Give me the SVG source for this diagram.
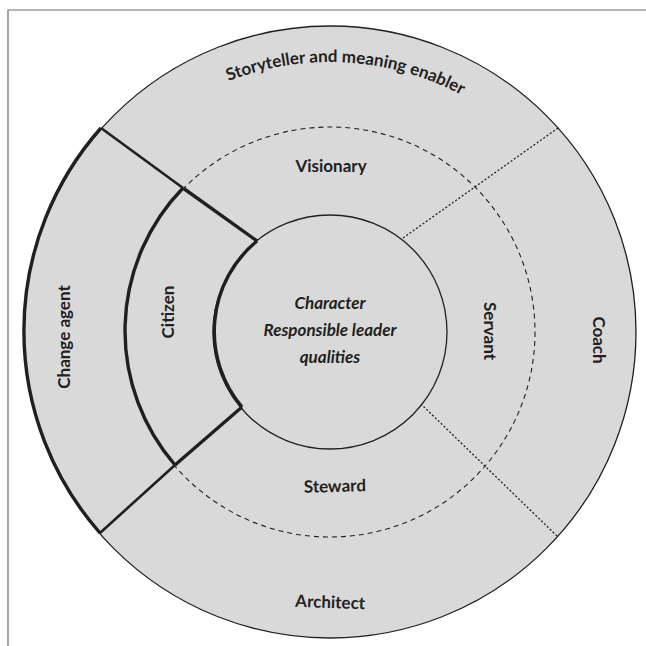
<svg xmlns="http://www.w3.org/2000/svg" width="646" height="646" viewBox="0 0 646 646">
<style>
.lbl{font-family:Lato,"Liberation Sans",sans-serif;font-weight:bold;font-size:17px;fill:#231f20;text-anchor:middle}
.ctr{font-style:italic}
.thin{stroke:#231f20;stroke-width:1.3}
.thick{fill:none;stroke:#231f20;stroke-width:3.4;stroke-linejoin:round}
.mid{fill:none;stroke:#231f20;stroke-width:2.6}
.dash{fill:none;stroke:#231f20;stroke-width:1.1;stroke-dasharray:5 4}
.dot{fill:none;stroke:#231f20;stroke-width:1.3;stroke-dasharray:2 2}
</style>
<defs>
<path id="arcTop" d="M52,340 A278,278 0 0 1 608,340"/>
</defs>
<path d="M8,646 V10 H646" fill="none" stroke="#6d6d6d" stroke-width="1.2"/>
<g id="outer-ring">
<circle class="thin" cx="330" cy="332" r="306" fill="#d9d9d9"/>
</g>
<g id="middle-ring">
<circle class="dash" cx="330" cy="332" r="205"/>
</g>
<g id="center">
<circle class="thin" cx="330" cy="332" r="117" fill="#d9d9d9"/>
<text class="lbl ctr" x="330" y="309">Character</text>
<text class="lbl ctr" x="330" y="336">Responsible leader</text>
<text class="lbl ctr" x="330" y="363">qualities</text>
</g>
<g id="connectors">
<path class="dot" d="M558,128 L403,238"/>
<path class="dot" d="M557,536 L421,404"/>
<path class="mid" d="M101,128 L183,188"/>
<path class="mid" d="M100,533 L175,465"/>
<path class="thick" d="M183,188 L257,241"/>
<path class="thick" d="M175,465 L242,407"/>
</g>
<g id="storyteller">
<text class="lbl"><textPath href="#arcTop" startOffset="453">Storyteller and meaning enabler</textPath></text>
</g>
<g id="coach">
<text class="lbl" transform="translate(593,340) rotate(90)">Coach</text>
</g>
<g id="architect">
<text class="lbl" x="330" y="608" transform="rotate(2 330 608)">Architect</text>
</g>
<g id="change-agent">
<path class="thick" d="M101,128 A306,306 0 0 0 100,533"/>
<text class="lbl" transform="translate(70,337) rotate(-90)">Change agent</text>
</g>
<g id="visionary">
<text class="lbl" x="331" y="172">Visionary</text>
</g>
<g id="servant">
<text class="lbl" transform="translate(484,331) rotate(90)">Servant</text>
</g>
<g id="steward">
<text class="lbl" x="335" y="492" transform="rotate(-1.5 335 492)">Steward</text>
</g>
<g id="citizen">
<path class="thick" d="M183,188 A205,205 0 0 0 175,465"/>
<path class="thick" d="M257,241 A117,117 0 0 0 242,407"/>
<text class="lbl" transform="translate(174,312) rotate(-90)">Citizen</text>
</g>
</svg>
